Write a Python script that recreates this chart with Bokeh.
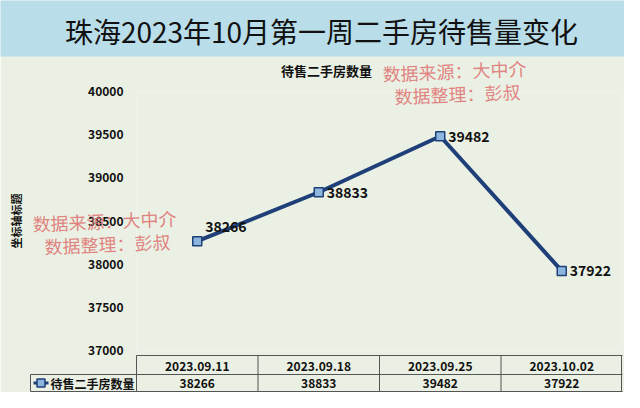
from bokeh.plotting import figure
from bokeh.models import FactorRange, Range1d, FixedTicker, ColumnDataSource
from bokeh.core.properties import value
from bokeh.embed import file_html
from bokeh.resources import INLINE

# ---- data ----
dates = ["2023.09.11", "2023.09.18", "2023.09.25", "2023.10.02"]
counts = [38266, 38833, 39482, 37922]
y_ticks = [37000, 37500, 38000, 38500, 39000, 39500, 40000]
series_name = "待售二手房数量"
title_text = "珠海2023年10月第一周二手房待售量变化"
y_axis_title = "坐标轴标题"
watermark_lines = ["数据来源：大中介", "数据整理：彭叔"]

# ---- layout / style ----
W, H = 624, 392
FL, FR, FT, FB = 136, 622, 91, 350
CW = (FR - FL) / len(dates)
BG = "#EAF0E3"
BAND = "#B9DDE9"
NAVY = "#1F3F78"
MARK = "#8DB6DE"
FONT = "Noto Sans CJK SC"
RED = "#DE6E6E"
INK = "#111111"


def sx(px):
    # canvas pixel x -> synthetic categorical coordinate
    return (px - FL) / CW


p = figure(width=W, height=H, x_range=FactorRange(*dates, range_padding=0),
           y_range=Range1d(y_ticks[0], y_ticks[-1]),
           output_backend="svg", toolbar_location=None,
           min_border_left=FL, min_border_right=W - FR, min_border_top=FT,
           min_border_bottom=H - FB)
p.extra_y_ranges = {"px": Range1d(FB, FT)}

p.background_fill_color = BG
p.border_fill_color = BG
p.outline_line_color = None
p.grid.visible = False

# y axis
p.yaxis.ticker = FixedTicker(ticks=y_ticks)
p.yaxis.axis_line_color = None
p.yaxis.major_tick_line_color = None
p.yaxis.minor_tick_line_color = None
p.yaxis.major_label_text_font = FONT
p.yaxis.major_label_text_font_style = "bold"
p.yaxis.major_label_text_font_size = "12px"
p.yaxis.major_label_text_color = INK
p.yaxis.major_label_standoff = 7
p.yaxis.axis_label = y_axis_title
p.yaxis.axis_label_text_font = FONT
p.yaxis.axis_label_text_font_style = "bold"
p.yaxis.axis_label_text_font_size = "11px"
p.yaxis.axis_label_text_color = INK
p.yaxis.axis_label_standoff = 61

# x axis (first table row)
p.xaxis.axis_line_color = None
p.xaxis.major_tick_line_color = None
p.xaxis.major_label_text_font = FONT
p.xaxis.major_label_text_font_style = "bold"
p.xaxis.major_label_text_font_size = "12px"
p.xaxis.major_label_text_color = INK
p.xaxis.major_label_standoff = 5


def ann(r):
    r.level = "annotation"
    return r


def label(px, py, txt, size, bold=False, color=INK, align="center", alpha=1.0, angle=0.0):
    ann(p.text(x=[sx(px)], y=[py], text=[txt], y_range_name="px", text_align=align,
               text_baseline="middle", text_font=value(FONT),
               text_font_style="bold" if bold else "normal", text_font_size=size,
               text_color=color, text_alpha=alpha, angle=angle))


# title band
ann(p.quad(left=[sx(0)], right=[sx(W)], top=[0], bottom=[56], y_range_name="px",
           fill_color=BAND, line_color=None))
label(321, 30, title_text, "28px")
# chart subtitle
label(326, 70, series_name, "13px", bold=True)

# series line and markers
src = ColumnDataSource(dict(x=dates, y=counts, t=[str(c) for c in counts],
                            xo=[8, 8, 8, 8], yo=[-15, 0, 0, 0]))
p.line("x", "y", source=src, line_color=NAVY, line_width=4)
p.scatter("x", "y", source=src, marker="square", size=9, fill_color=MARK,
          line_color=NAVY, line_width=1.5)
p.text("x", "y", text="t", source=src, x_offset="xo", y_offset="yo",
       text_align="left", text_baseline="middle", text_font=value(FONT),
       text_font_style="bold", text_font_size="14px", text_color=INK)

# data table lines
TT, TM, TB, LL = 355, 374, 391, 30
vx = [sx(FL + i * CW) for i in range(4)] + [sx(FR - 1)]
ann(p.segment(x0=vx, y0=[TT] * 5, x1=vx, y1=[TB] * 5, y_range_name="px",
              line_color="#555555", line_width=1))
ann(p.segment(x0=[sx(FL), sx(LL), sx(LL), sx(LL)], y0=[TT, TM, TB, TM],
              x1=[sx(FR), sx(FR), sx(FR), sx(LL)], y1=[TT, TM, TB, TB],
              y_range_name="px", line_color="#555555", line_width=1))
# values row
ann(p.text(x=dates, y=[(TM + TB) / 2] * 4, text=[str(c) for c in counts], y_range_name="px",
           text_align="center", text_baseline="middle", text_font=value(FONT),
           text_font_style="bold", text_font_size="12px", text_color=INK))
# legend key
ky = (TM + TB) / 2
ann(p.segment(x0=[sx(33)], y0=[ky], x1=[sx(48)], y1=[ky], y_range_name="px",
              line_color=NAVY, line_width=3))
ann(p.quad(left=[sx(36.5)], right=[sx(44.5)], top=[ky - 4], bottom=[ky + 4], y_range_name="px",
           fill_color=MARK, line_color=NAVY, line_width=1.5))
label(50, ky, series_name, "12px", bold=True, align="left")

# watermarks
for (cx, cy) in [(454, 70), (104, 220)]:
    for i, line in enumerate(watermark_lines):
        label(cx + (3 if i else 0), cy + i * 23, line, "18px", color=RED, alpha=0.85, angle=0.04)

open("out.html", "w").write(file_html(p, INLINE))
